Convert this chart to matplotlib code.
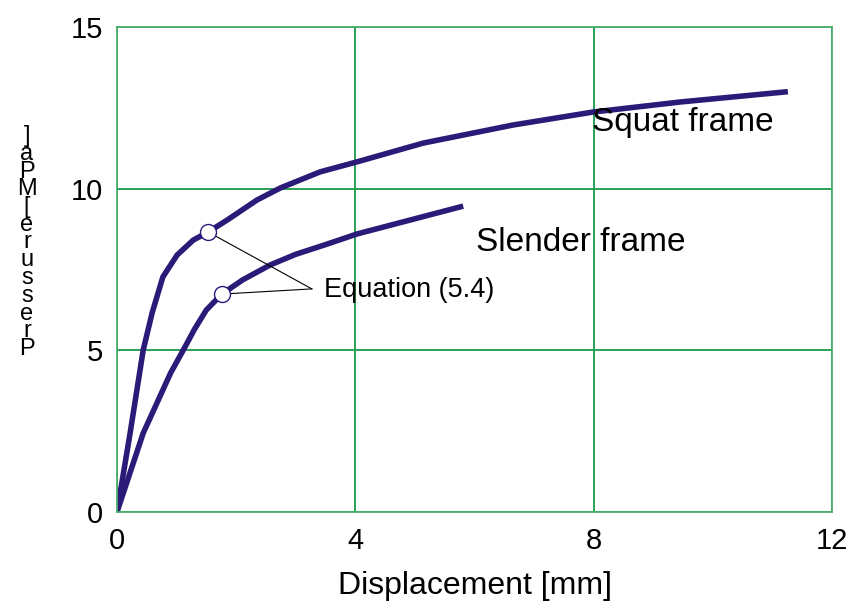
import matplotlib
matplotlib.use("Agg")
import matplotlib.pyplot as plt

plt.rcParams['font.family'] = ['Liberation Sans', 'DejaVu Sans']

# datos
squat_x = [0.0, 0.22, 0.44, 0.59, 0.77, 1.01, 1.28, 1.53, 1.85, 2.35, 2.74, 3.41,
           4.03, 5.14, 6.65, 7.99, 9.45, 11.26]
squat_y = [0.0, 2.44, 5.01, 6.16, 7.27, 7.95, 8.41, 8.66, 9.03, 9.65, 10.02, 10.52,
           10.83, 11.41, 11.97, 12.37, 12.68, 13.0]
slender_x = [0.0, 0.44, 0.9, 1.14, 1.3, 1.5, 1.76, 2.11, 2.57, 3.0, 3.5, 4.03, 5.81]
slender_y = [0.0, 2.44, 4.3, 5.1, 5.65, 6.25, 6.74, 7.18, 7.64, 7.97, 8.27, 8.6, 9.46]
eq_x = [1.53, 1.76]
eq_y = [8.66, 6.74]
x_ticks = [0, 4, 8, 12]
y_ticks = [0, 5, 10, 15]
ylabel_chars = list("Pressure[MPa]")

color = '#2b1a78'
green = '#17984a'

fig = plt.figure(figsize=(8.55, 6.11), dpi=100)
ax = fig.add_axes([117/855, 1-512/611, 715/855, 485/611])

ax.plot(squat_x, squat_y, color=color, lw=4, solid_capstyle='butt', solid_joinstyle='round')
ax.plot(slender_x, slender_y, color=color, lw=4, solid_capstyle='butt', solid_joinstyle='round')

# lineas de la anotacion
for x, y in zip(eq_x, eq_y):
    ax.plot([x, 3.27], [y, 6.9], color='black', lw=0.8, zorder=3)
ax.plot(eq_x, eq_y, 'o', ms=11.5, mfc='white', mec=color, mew=1.0, zorder=4)
ax.text(3.47, 6.87, 'Equation (5.4)', fontsize=19.5, va='center', ha='left')

ax.text(7.97, 12.05, 'Squat frame', fontsize=24, va='center', ha='left')
ax.text(6.02, 8.35, 'Slender frame', fontsize=24, va='center', ha='left')

ax.set_xlim(0, 12)
ax.set_ylim(0, 15)
ax.set_xticks(x_ticks)
ax.set_yticks(y_ticks)
ax.set_xticklabels([str(t) for t in x_ticks], fontsize=21)
ax.set_yticklabels([str(t) for t in y_ticks], fontsize=21)
ax.tick_params(axis='x', length=0, pad=11)
ax.tick_params(axis='y', length=0, pad=10)
ax.grid(True, color=green, lw=1.3)
for s in ax.spines.values():
    s.set_color('#4cae6c')
    s.set_linewidth(1.3)

ax.set_xlabel('Displacement [mm]', fontsize=23, labelpad=11)

# etiqueta del eje y apilada (una letra por linea, solapadas como en el original)
fig.text(27/855, 1 - 360/611, "\n".join(reversed(ylabel_chars)), fontsize=17,
         ha='center', va='bottom', multialignment='center', linespacing=0.75)

fig.savefig('out.png', dpi=100)
